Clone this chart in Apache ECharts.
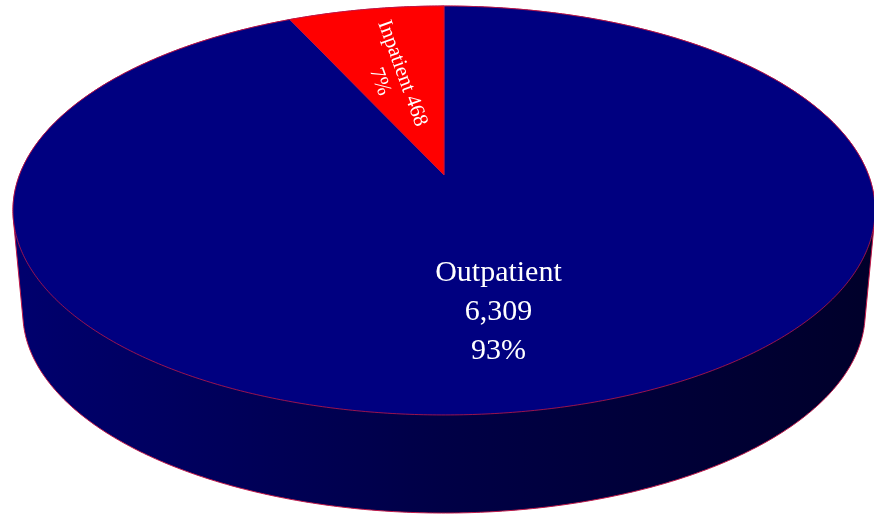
<!DOCTYPE html>
<html><head><meta charset="utf-8">
<script src="https://cdn.jsdelivr.net/npm/echarts@6/dist/echarts.min.js"></script>
<style>html,body{margin:0;padding:0;background:#fff}#c{width:874px;height:517px}</style>
</head><body><div id="c"></div>
<script>
// ---- data ----
const categories = ['Outpatient', 'Inpatient'];
const values = [6309, 468];
const colors = ['#000080', '#ff0000'];

// ---- style / layout constants ----
const CX = 444, CY = 175, A = 424.5, B = 198.3, K = 0.1736; // top face projection
const S2 = 0.977, CY2 = 278.6;                                // bottom face projection
const labelRadius = [0.63, 0.55];
const labelShift = [[-10, 1], [-7, 0]];
const labelRotate = [0, -70];
const labelSep = ['\n', ' '];
const labelFont = [30, 21];
const labelLine = [39, 24];
const edgeColor = '#c01848';

const total = values.reduce((a, b) => a + b, 0);
const starts = [];
let acc = 0;
values.forEach(v => { starts.push(acc / total * 360); acc += v; });

function proj(theta, r, bottom) {
  const t = theta * Math.PI / 180;
  const u = r * Math.sin(t), v = r * Math.cos(t);
  const w = 1 + K * v;
  if (bottom) return [CX + S2 * A * u / w, CY2 - S2 * B * v / w];
  return [CX + A * u / w, CY - B * v / w];
}
function hull(pts) {
  pts = pts.slice().sort((a, b) => a[0] - b[0] || a[1] - b[1]);
  const cross = (o, a, b) => (a[0] - o[0]) * (b[1] - o[1]) - (a[1] - o[1]) * (b[0] - o[0]);
  const lo = [], up = [];
  for (const p of pts) { while (lo.length >= 2 && cross(lo[lo.length - 2], lo[lo.length - 1], p) <= 0) lo.pop(); lo.push(p); }
  for (let i = pts.length - 1; i >= 0; i--) { const p = pts[i]; while (up.length >= 2 && cross(up[up.length - 2], up[up.length - 1], p) <= 0) up.pop(); up.push(p); }
  up.pop(); lo.pop();
  return lo.concat(up);
}
function shade(hex, f) {
  const n = parseInt(hex.slice(1), 16);
  const r = Math.round(((n >> 16) & 255) * f), g = Math.round(((n >> 8) & 255) * f), b = Math.round((n & 255) * f);
  return 'rgb(' + r + ',' + g + ',' + b + ')';
}

const chart = echarts.init(document.getElementById('c'), null, { renderer: 'canvas' });
chart.setOption({
  animation: false,
  series: [{
    type: 'custom',
    coordinateSystem: 'none',
    data: values.map((v, i) => [i, v]),
    renderItem: function (params, api) {
      const i = params.dataIndex;
      const v = values[i];
      const a0 = starts[i], a1 = a0 + v / total * 360;
      const steps = Math.max(2, Math.ceil((a1 - a0) / 0.5));
      const arc = [], sidePts = [];
      for (let s = 0; s <= steps; s++) {
        const th = a0 + (a1 - a0) * s / steps;
        const p = proj(th, 1, false);
        arc.push(p);
        sidePts.push(p, proj(th, 1, true));
      }
      const top = [proj(0, 0, false)].concat(arc);
      const side = hull(sidePts);
      const pct = Math.round(v / total * 100) + '%';
      const mid = (a0 + a1) / 2;
      const lp = proj(mid, labelRadius[i], false);
      const text = categories[i] + labelSep[i] + v.toLocaleString('en-US') + '\n' + pct;
      return {
        type: 'group',
        children: [
          {
            type: 'polygon', z2: 1,
            shape: { points: side },
            style: {
              fill: new echarts.graphic.LinearGradient(0, 0, 1, 0, [
                { offset: 0, color: shade(colors[i], 0.86) },
                { offset: 0.5, color: shade(colors[i], 0.55) },
                { offset: 1, color: shade(colors[i], 0.33) }
              ]),
              stroke: edgeColor, lineWidth: 1
            }
          },
          {
            type: 'polygon', z2: 10,
            shape: { points: top },
            style: { fill: colors[i], stroke: edgeColor, lineWidth: 0.8 }
          },
          {
            type: 'text', z2: 20,
            x: lp[0] + labelShift[i][0], y: lp[1] + labelShift[i][1],
            rotation: labelRotate[i] * Math.PI / 180,
            style: {
              text: text, x: 0, y: 0,
              fill: '#ffffff',
              fontFamily: '"Liberation Serif", "Times New Roman", serif',
              fontSize: labelFont[i],
              lineHeight: labelLine[i],
              align: 'center', verticalAlign: 'middle',
              textAlign: 'center', textVerticalAlign: 'middle'
            }
          }
        ]
      };
    }
  }]
});
</script>
</body></html>
